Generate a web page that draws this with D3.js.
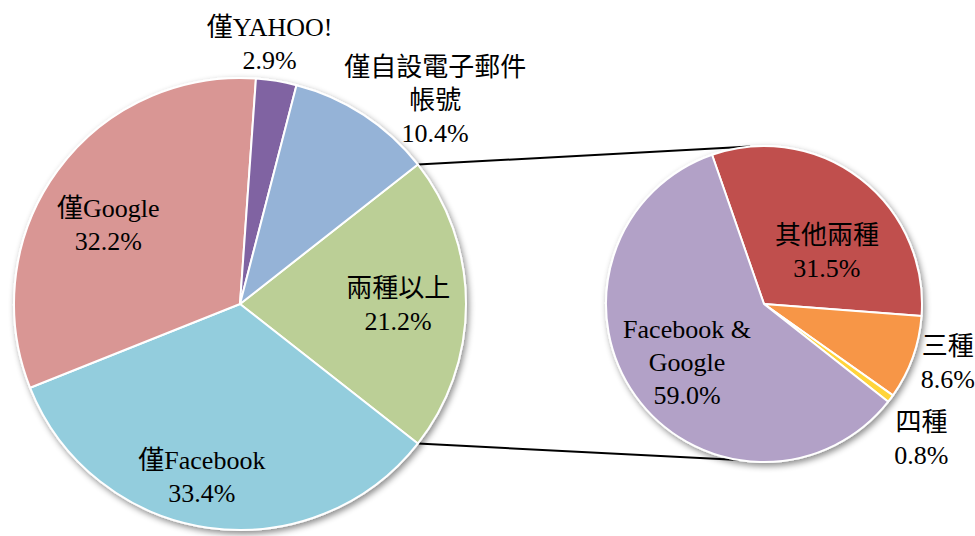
<!DOCTYPE html>
<html>
<head>
<meta charset="utf-8">
<script src="https://cdn.jsdelivr.net/npm/d3@7/dist/d3.min.js"></script>
<style>
  body { margin: 0; background: #fff; }
</style>
</head>
<body>
<svg id="chart" width="975" height="536"></svg>
<script>
// main pie
var mainNames = ["兩種以上", "僅Facebook", "僅Google", "僅YAHOO!", "僅自設電子郵件\n帳號"];
var mainValues = [21.2, 33.4, 32.2, 2.9, 10.4];
var mainColors = ["#BBCF96", "#93CDDD", "#D99694", "#8064A2", "#95B3D7"];

// secondary pie (breakdown of 兩種以上)
var subNames = ["其他兩種", "三種", "四種", "Facebook &\nGoogle"];
var subValues = [31.5, 8.6, 0.8, 59.0];
var subColors = ["#C0504D", "#F79646", "#FFD43B", "#B2A1C7"];

// label placement: [angle in degrees from 12 o'clock, radius factor]
var mainLabelPos = [[90, 0.70], [192.5, 0.78], [301, 0.68], [6.5, 1.16], [43.7, 1.25]];
var subLabelPos = [[50, 0.52], [107.6, 1.22], [130.5, 1.31], [233, 0.61]];

var fontStack = "'Liberation Serif', 'DejaVu Serif', 'Noto Sans CJK TC', serif";

var svg = d3.select("#chart");
var rad = Math.PI / 180;

var defs = svg.append("defs");
defs.append("filter")
	.attr("id", "shadow")
	.attr("x", "-10%").attr("y", "-10%")
	.attr("width", "130%").attr("height", "130%")
	.append("feDropShadow")
	.attr("dx", 2).attr("dy", 3)
	.attr("stdDeviation", 3)
	.attr("flood-color", "#000")
	.attr("flood-opacity", 0.45);

var main = { cx: 240, cy: 304, r: 226 };
var sub = { cx: 764, cy: 304, r: 158 };

var mainTotal = d3.sum(mainValues);
var mainStart = Math.PI / 2 - Math.PI * mainValues[0] / mainTotal;
var mainPie = d3.pie().sort(null).startAngle(mainStart).endAngle(mainStart + 2 * Math.PI);
var subStart = -19.2 * rad;
var subPie = d3.pie().sort(null).startAngle(subStart).endAngle(subStart + 2 * Math.PI);

var mainArcs = mainPie(mainValues);
var subArcs = subPie(subValues);

function point(c, a, k) {
	return [c.cx + c.r * k * Math.sin(a), c.cy - c.r * k * Math.cos(a)];
}

// connector lines
var conn = svg.append("g").attr("class", "connectors");
var first = mainArcs[0];
var links = [
	[point(main, first.startAngle, 1), point(sub, -5 * rad, 1)],
	[point(main, first.endAngle, 1), point(sub, 189 * rad, 1)]
];
conn.selectAll("line")
	.data(links)
	.enter().append("line")
	.attr("x1", function(d){ return d[0][0]; })
	.attr("y1", function(d){ return d[0][1]; })
	.attr("x2", function(d){ return d[1][0]; })
	.attr("y2", function(d){ return d[1][1]; })
	.style("stroke", "#000")
	.style("stroke-width", 2);

function drawPie(c, arcs, colors) {
	var arc = d3.arc().innerRadius(0).outerRadius(c.r);
	var g = svg.append("g")
		.attr("transform", "translate(" + c.cx + "," + c.cy + ")")
		.attr("filter", "url(#shadow)");
	g.selectAll("path")
		.data(arcs)
		.enter().append("path")
		.attr("d", arc)
		.style("fill", function(d, i){ return colors[i]; })
		.style("stroke", "#fff")
		.style("stroke-width", 2)
		.style("stroke-linejoin", "round");
}

drawPie(main, mainArcs, mainColors);
drawPie(sub, subArcs, subColors);

function drawLabels(c, names, values, pos) {
	var g = svg.append("g").attr("class", "labels");
	names.forEach(function(name, i) {
		var lines = name.split("\n").concat([values[i].toFixed(1) + "%"]);
		var p = point(c, pos[i][0] * rad, pos[i][1]);
		var lh = 33;
		var y0 = p[1] - (lines.length - 1) * lh / 2;
		var t = g.append("text")
			.attr("text-anchor", "middle")
			.attr("font-family", fontStack)
			.attr("font-size", 26)
			.style("font-family", fontStack)
			.style("fill", "#000");
		t.selectAll("tspan")
			.data(lines)
			.enter().append("tspan")
			.attr("x", p[0])
			.attr("y", function(d, j){ return y0 + j * lh + 9; })
			.text(function(d){ return d; });
	});
}

drawLabels(main, mainNames, mainValues, mainLabelPos);
drawLabels(sub, subNames, subValues, subLabelPos);
</script>
</body>
</html>
